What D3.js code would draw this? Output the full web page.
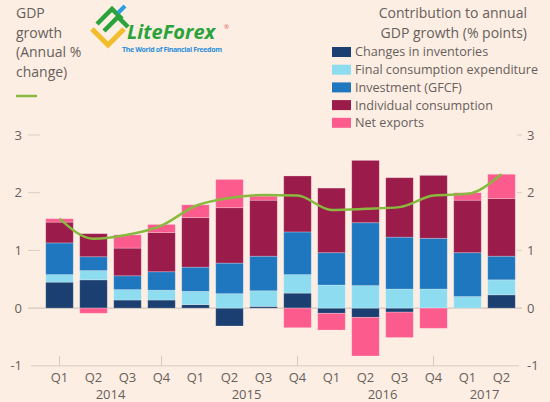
<!DOCTYPE html>
<html>
<head>
<meta charset="utf-8">
<script src="https://cdn.jsdelivr.net/npm/d3@7"></script>
<style>
html,body{margin:0;padding:0;background:#fdeee3;}
svg{display:block;}
text{font-family:"Open Sans","Noto Sans",sans-serif;}
</style>
</head>
<body>
<svg id="chart" width="550" height="402"></svg>
<script>
// ---- data ----
const quarters = ["Q1","Q2","Q3","Q4","Q1","Q2","Q3","Q4","Q1","Q2","Q3","Q4","Q1","Q2"];
const years = ["2014","2015","2016","2017"];
const yearLabelAt = [1.5, 5.5, 9.5, 12.5];
const yearTickAt = [0, 3, 7, 11];
const seriesNames = ["Changes in inventories","Final consumption expenditure","Investment (GFCF)","Individual consumption","Net exports"];
const inventories = [0.45, 0.49, 0.14, 0.14, 0.06, -0.31, 0.03, 0.26, -0.09, -0.16, -0.07, 0.00, 0.00, 0.23];
const finalConsumption = [0.13, 0.16, 0.18, 0.17, 0.23, 0.25, 0.27, 0.32, 0.40, 0.39, 0.33, 0.33, 0.20, 0.26];
const investment = [0.55, 0.24, 0.24, 0.32, 0.42, 0.53, 0.60, 0.74, 0.56, 1.09, 0.90, 0.88, 0.76, 0.41];
const individualConsumption = [0.36, 0.40, 0.48, 0.68, 0.86, 0.96, 0.97, 0.97, 1.12, 1.08, 1.03, 1.09, 0.91, 1.00];
const netExports = [0.06, -0.09, 0.23, 0.14, 0.22, 0.49, 0.07, -0.34, -0.29, -0.67, -0.44, -0.35, 0.13, 0.42];
const gdpGrowth = [1.55, 1.20, 1.27, 1.43, 1.77, 1.91, 1.96, 1.95, 1.70, 1.72, 1.75, 1.95, 1.98, 2.32];
const yTicks = [-1, 0, 1, 2, 3];
const colors = ["#1b3f70", "#8edcef", "#1f78bf", "#9b1b4a", "#fc5b8e"];

// ---- build ----
const svg = d3.select("#chart");
const txt = "#66605c";
svg.append("rect").attr("width",550).attr("height",402).attr("fill","#fdeee3");

const idx = quarters.map((q,i)=>i);
const x = d3.scaleBand().domain(idx).range([42.5, 518.5]).paddingInner(0.19).paddingOuter(0.095);
const y = d3.scaleLinear().domain([-1, 3]).range([365.8, 135]);

const table = idx.map(i => ({
  i,
  s0: inventories[i], s1: finalConsumption[i], s2: investment[i], s3: individualConsumption[i], s4: netExports[i]
}));
const stack = d3.stack().keys(["s0","s1","s2","s3","s4"]).offset(d3.stackOffsetDiverging);
const layers = stack(table);

// short grid ticks + labels
const g = svg.append("g");
yTicks.forEach(t => {
  if (t !== -1 && t !== 0) {
    g.append("line").attr("x1",28).attr("x2",40).attr("y1",y(t)).attr("y2",y(t)).attr("stroke","#d9cdc3").attr("stroke-width",1);
    g.append("line").attr("x1",517).attr("x2",522).attr("y1",y(t)).attr("y2",y(t)).attr("stroke","#d9cdc3").attr("stroke-width",1);
  }
  g.append("text").attr("x",22).attr("y",y(t)).attr("dy","0.35em").attr("text-anchor","end")
    .attr("font-size",13).attr("fill",txt).text(t);
  g.append("text").attr("x",527).attr("y",y(t)).attr("dy","0.35em").attr("text-anchor","start")
    .attr("font-size",13).attr("fill",txt).text(t);
});
// zero line
g.append("line").attr("x1",28).attr("x2",522).attr("y1",y(0)).attr("y2",y(0)).attr("stroke","#c9bdb3").attr("stroke-width",1);
// baseline at -1
g.append("line").attr("x1",31).attr("x2",519).attr("y1",y(-1)).attr("y2",y(-1)).attr("stroke","#d6cabf").attr("stroke-width",1);
yearTickAt.forEach(k => {
  const cx = x(k) + x.bandwidth()/2;
  g.append("line").attr("x1",cx).attr("x2",cx).attr("y1",y(-1)-10).attr("y2",y(-1)).attr("stroke","#d6cabf").attr("stroke-width",1);
});

// bars
layers.forEach((layer, li) => {
  svg.append("g").selectAll("rect").data(layer).join("rect")
    .attr("x", d => x(d.data.i))
    .attr("width", x.bandwidth())
    .attr("y", d => y(Math.max(d[0], d[1])))
    .attr("height", d => Math.abs(y(d[0]) - y(d[1])))
    .attr("fill", colors[li])
    .attr("stroke", "rgba(255,255,255,0.3)")
    .attr("stroke-width", 0.8);
});

// gdp line
const line = d3.line().x((d,i) => x(i) + x.bandwidth()/2).y(d => y(d)).curve(d3.curveMonotoneX);
svg.append("path").datum(gdpGrowth).attr("d", line).attr("fill","none").attr("stroke","#89b93f").attr("stroke-width",2.5);

// x labels
quarters.forEach((q,i) => {
  svg.append("text").attr("x", x(i)+x.bandwidth()/2).attr("y", 382).attr("text-anchor","middle")
    .attr("font-size",13).attr("fill",txt).text(q);
});
years.forEach((yr,k) => {
  const p = yearLabelAt[k];
  const cx = x(0) + x.bandwidth()/2 + p * x.step();
  svg.append("text").attr("x", cx).attr("y", 399).attr("text-anchor","middle")
    .attr("font-size",13).attr("fill",txt).text(yr);
});

// left title
["GDP","growth","(Annual %","change)"].forEach((t,k) => {
  svg.append("text").attr("x",16).attr("y",18 + k*19.7).attr("font-size",14).attr("fill",txt).text(t);
});
svg.append("line").attr("x1",16).attr("x2",37).attr("y1",96).attr("y2",96).attr("stroke","#89b93f").attr("stroke-width",2.5);

// right title
["Contribution to annual","GDP growth (% points)"].forEach((t,k) => {
  svg.append("text").attr("x",527).attr("y",18 + k*20).attr("text-anchor","end").attr("font-size",14).attr("fill",txt).text(t);
});
// legend
seriesNames.forEach((n,k) => {
  const cy = 52 + k*17.7;
  svg.append("rect").attr("x",332).attr("y",cy-5).attr("width",19).attr("height",10).attr("fill",colors[k]);
  svg.append("text").attr("x",355).attr("y",cy).attr("dy","0.35em").attr("font-size",12.6).attr("fill",txt).text(n);
});

// logo (watermark)
const logo = svg.append("g");
logo.append("path").attr("d","M92,29 L108,45 L124,29").attr("fill","none").attr("stroke","#f2bd2b").attr("stroke-width",5).attr("stroke-linejoin","miter");
logo.append("path").attr("d","M97,24 L112,9 L122,19 M104,31 L118,17 L128,27").attr("fill","none").attr("stroke","#2aa33a").attr("stroke-width",4.5);
logo.append("line").attr("x1",118).attr("y1",13).attr("x2",125).attr("y2",6).attr("stroke","#2b9ee0").attr("stroke-width",4);
logo.append("text").attr("x",127).attr("y",39).attr("font-family","Liberation Sans, Arial, sans-serif").attr("font-weight","bold").attr("font-style","italic")
  .attr("font-size",20).attr("fill","#2aa33a").text("LiteForex");
logo.append("text").attr("x",224).attr("y",29).attr("font-size",6).attr("fill","#e8505b").text("®");
logo.append("text").attr("x",122).attr("y",52).attr("font-family","Liberation Sans, Arial, sans-serif").attr("font-weight","bold")
  .attr("font-size",7).attr("fill","#2b8fdc").attr("textLength",100).text("The World of Financial Freedom");
</script>
</body>
</html>
